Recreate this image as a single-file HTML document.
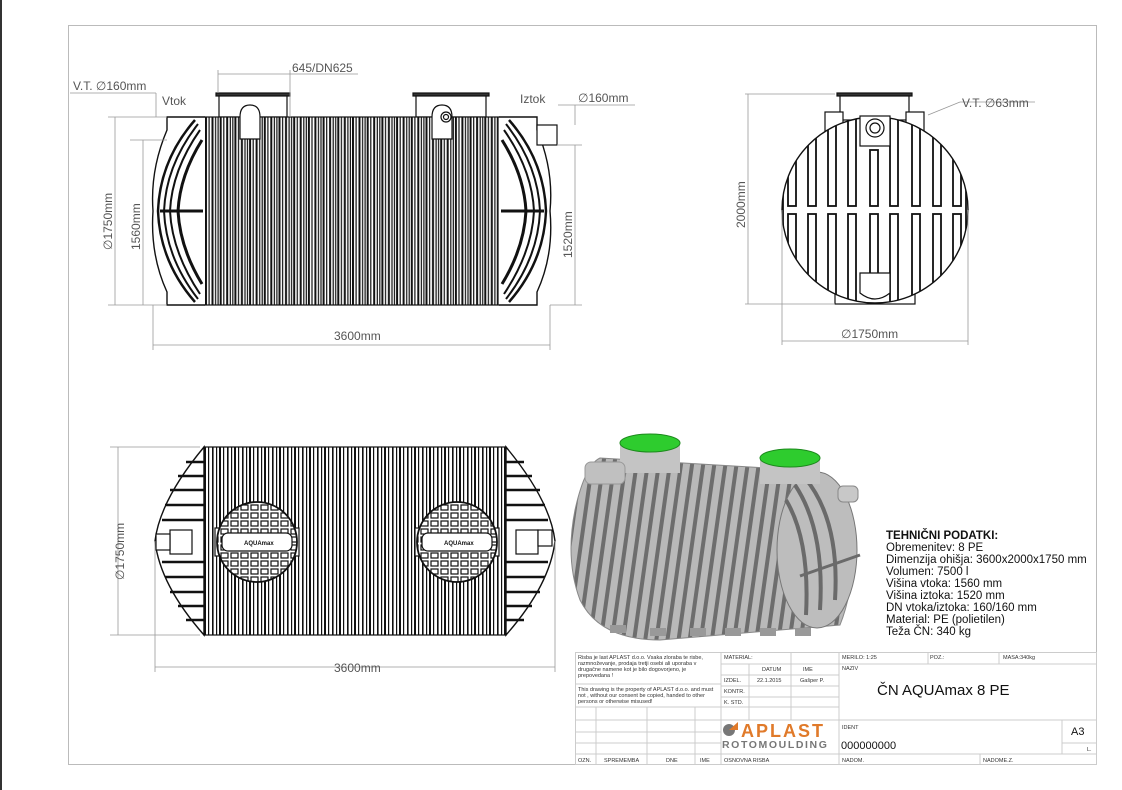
<!DOCTYPE html>
<html><head><meta charset="utf-8"><style>
html,body{margin:0;padding:0;background:#fff}
svg{display:block}
text{font-family:"Liberation Sans",sans-serif}
</style></head><body>
<svg width="1122" height="790" viewBox="0 0 1122 790" xmlns="http://www.w3.org/2000/svg">
<defs>
<pattern id="ribs" x="205" y="0" width="14.7" height="10" patternUnits="userSpaceOnUse">
<rect x="0" y="0" width="14.7" height="10" fill="#fff"/>
<rect x="0" y="0" width="2" height="10" fill="#111"/>
<rect x="3.5" y="0" width="1.2" height="10" fill="#111"/>
<rect x="6.5" y="0" width="2" height="10" fill="#111"/>
<rect x="10" y="0" width="1.2" height="10" fill="#111"/>
<rect x="12.5" y="0" width="1.2" height="10" fill="#111"/>
</pattern>
<pattern id="ribs2" x="204" y="0" width="15" height="10" patternUnits="userSpaceOnUse">
<rect x="0" y="0" width="15" height="10" fill="#fff"/>
<rect x="0" y="0" width="2" height="10" fill="#111"/>
<rect x="4" y="0" width="1.2" height="10" fill="#111"/>
<rect x="8" y="0" width="1.6" height="10" fill="#111"/>
<rect x="12" y="0" width="1.2" height="10" fill="#111"/>
</pattern>
<pattern id="bricks" x="0" y="0" width="10" height="8" patternUnits="userSpaceOnUse">
<rect width="10" height="8" fill="#fff"/>
<rect x="1" y="1" width="7" height="5" fill="none" stroke="#111" stroke-width="1.2"/>
</pattern>
<pattern id="gstripe" x="0" y="0" width="11" height="10" patternUnits="userSpaceOnUse" patternTransform="rotate(8)">
<rect width="11" height="10" fill="#b9b9b9"/>
<rect x="0" y="0" width="4" height="10" fill="#6d6d6d"/>
</pattern>
<clipPath id="fc"><circle cx="875" cy="210" r="93"/></clipPath>
</defs>

<rect x="0" y="0" width="2" height="790" fill="#333"/>
<rect x="68.5" y="25.5" width="1028" height="739" fill="none" stroke="#bbb" stroke-width="1"/>

<!-- ============ SIDE VIEW ============ -->
<g stroke="#111" fill="none" stroke-width="1.2">
<rect x="216" y="93" width="74" height="3" fill="#333"/>
<rect x="219" y="96" width="68" height="21" fill="#fff"/>
<rect x="413" y="93" width="76" height="3" fill="#333"/>
<rect x="416" y="96" width="70" height="21" fill="#fff"/>
<rect x="205" y="117" width="294" height="188" fill="url(#ribs)"/>
<path d="M240 117 q0 -12 10 -12 q10 0 10 12 v22 h-20z" fill="#fff"/>
<path d="M432 117 q0 -12 10 -12 q10 0 10 12 v22 h-20z" fill="#fff"/>
<circle cx="446" cy="117" r="5" fill="#fff"/><circle cx="446" cy="117" r="2.5"/>
<path d="M205 117 H167 V130 Q150 170 153 211 Q150 255 167 292 V305 H205" fill="#fff" stroke-width="1.4"/>
<path d="M195 120 Q160 160 158 211 Q160 262 195 302" stroke-width="2.5"/>
<path d="M198 124 Q166 165 164 211 Q166 258 198 299" stroke-width="2"/>
<path d="M200 130 Q172 170 170 211 Q172 252 200 294" stroke-width="2"/>
<path d="M202 140 Q180 175 178 211 Q180 248 202 284" stroke-width="3"/>
<line x1="160" y1="211" x2="203" y2="211" stroke-width="3"/>
<path d="M499 117 H537 V130 Q554 170 550 211 Q554 255 537 292 V305 H499" fill="#fff" stroke-width="1.4"/>
<path d="M509 120 Q544 160 546 211 Q544 262 509 302" stroke-width="2.5"/>
<path d="M506 124 Q538 165 540 211 Q538 258 506 299" stroke-width="2"/>
<path d="M504 130 Q532 170 534 211 Q532 252 504 294" stroke-width="2"/>
<path d="M502 140 Q524 175 526 211 Q524 248 502 284" stroke-width="3"/>
<line x1="501" y1="211" x2="544" y2="211" stroke-width="3"/>
<rect x="537" y="125" width="20" height="20" fill="#fff"/>
</g>
<g stroke="#999" stroke-width="0.8" fill="none">
<line x1="70" y1="93" x2="156" y2="93"/><line x1="156" y1="93" x2="156" y2="117"/>
<line x1="108" y1="117" x2="167" y2="117"/>
<line x1="108" y1="305" x2="167" y2="305"/>
<line x1="130" y1="140" x2="167" y2="140"/>
<line x1="115" y1="117" x2="115" y2="305"/>
<line x1="143" y1="140" x2="143" y2="305"/>
<line x1="218" y1="70" x2="218" y2="93"/><line x1="290" y1="70" x2="290" y2="117"/>
<line x1="218" y1="74" x2="290" y2="74"/><line x1="290" y1="74" x2="358" y2="74"/>
<line x1="558" y1="105" x2="635" y2="105"/><line x1="575" y1="105" x2="575" y2="125"/>
<line x1="557" y1="145" x2="582" y2="145"/>
<line x1="550" y1="305" x2="582" y2="305"/>
<line x1="575" y1="145" x2="575" y2="305"/>
<line x1="153" y1="305" x2="153" y2="350"/><line x1="550" y1="305" x2="550" y2="350"/>
<line x1="153" y1="345" x2="550" y2="345"/>
</g>
<g font-size="12" fill="#555">
<text x="73" y="90">V.T. ∅160mm</text>
<text x="162" y="105">Vtok</text>
<text x="292" y="72">645/DN625</text>
<text x="520" y="103">Iztok</text>
<text x="578" y="102">∅160mm</text>
<text x="334" y="340">3600mm</text>
<text transform="translate(112,250) rotate(-90)">∅1750mm</text>
<text transform="translate(140,250) rotate(-90)">1560mm</text>
<text transform="translate(572,258) rotate(-90)">1520mm</text>
</g>

<!-- ============ FRONT VIEW ============ -->
<g stroke="#111" fill="none" stroke-width="1.2">
<rect x="837" y="93" width="75" height="3" fill="#333"/>
<rect x="840" y="96" width="69" height="24" fill="#fff"/>
<rect x="825" y="112" width="18" height="20" fill="#fff"/>
<rect x="906" y="112" width="18" height="20" fill="#fff"/>
<rect x="835" y="290" width="80" height="14" fill="#fff"/>
<circle cx="875" cy="210" r="93" fill="#fff" stroke-width="1.4"/>
<g clip-path="url(#fc)" stroke-width="1.8">
<rect x="788" y="118" width="8" height="88"/><rect x="788" y="214" width="8" height="92"/>
<rect x="808" y="118" width="8" height="88"/><rect x="808" y="214" width="8" height="92"/>
<rect x="828" y="118" width="8" height="88"/><rect x="828" y="214" width="8" height="92"/>
<rect x="848" y="118" width="8" height="88"/><rect x="848" y="214" width="8" height="92"/>
<rect x="870" y="150" width="8" height="56"/><rect x="870" y="214" width="8" height="60"/>
<rect x="890" y="118" width="8" height="88"/><rect x="890" y="214" width="8" height="92"/>
<rect x="912" y="118" width="8" height="88"/><rect x="912" y="214" width="8" height="92"/>
<rect x="933" y="118" width="8" height="88"/><rect x="933" y="214" width="8" height="92"/>
<rect x="953" y="118" width="8" height="88"/><rect x="953" y="214" width="8" height="92"/>
<line x1="780" y1="118" x2="780" y2="306"/>
<line x1="783" y1="118" x2="783" y2="306"/>
<line x1="966" y1="118" x2="966" y2="306"/>
<line x1="969" y1="118" x2="969" y2="306"/>
</g>
<rect x="860" y="116" width="30" height="30" fill="#fff"/>
<circle cx="875" cy="128" r="9"/><circle cx="875" cy="128" r="5"/>
<path d="M860 273 h30 v20 q-15 12 -30 0z" fill="#fff"/>
</g>
<g stroke="#999" stroke-width="0.8" fill="none">
<line x1="745" y1="94" x2="835" y2="94"/><line x1="745" y1="304" x2="835" y2="304"/>
<line x1="748" y1="94" x2="748" y2="304"/>
<line x1="782" y1="210" x2="782" y2="345"/><line x1="968" y1="210" x2="968" y2="345"/>
<line x1="782" y1="341" x2="968" y2="341"/>
<line x1="928" y1="115" x2="960" y2="102"/><line x1="960" y1="102" x2="1035" y2="102"/>
</g>
<g font-size="12" fill="#555">
<text x="962" y="107">V.T. ∅63mm</text>
<text x="841" y="338">∅1750mm</text>
<text transform="translate(745,228) rotate(-90)">2000mm</text>
</g>

<!-- ============ TOP VIEW ============ -->
<g stroke="#111" fill="none" stroke-width="1.2">
<rect x="204" y="447" width="302" height="188" fill="url(#ribs2)"/>
<rect x="215" y="528" width="84" height="28" fill="#fff"/>
<rect x="415" y="528" width="84" height="28" fill="#fff"/>
<path d="M204 447 Q160 500 155 541 Q160 585 204 635 Z" fill="#fff" stroke-width="1.4"/>
<path d="M506 447 Q550 500 555 541 Q550 585 506 635 Z" fill="#fff" stroke-width="1.4"/>
<g stroke-width="2.5">
<path d="M186 462 h18 M178 476 h26 M170 490 h34 M165 505 h39 M162 520 h42 M162 562 h42 M165 577 h39 M170 592 h34 M178 606 h26 M186 620 h18"/>
<path d="M524 462 h-18 M532 476 h-26 M540 490 h-34 M545 505 h-39 M548 520 h-42 M548 562 h-42 M545 577 h-39 M540 592 h-34 M532 606 h-26 M524 620 h-18"/>
</g>
<rect x="170" y="530" width="22" height="24" fill="#fff"/>
<rect x="156" y="534" width="14" height="16" fill="#fff"/>
<rect x="516" y="530" width="22" height="24" fill="#fff"/>
<rect x="538" y="530" width="14" height="16" fill="#fff"/>
<circle cx="257" cy="542" r="40" fill="url(#bricks)" stroke-width="1.8"/>
<circle cx="457" cy="542" r="40" fill="url(#bricks)" stroke-width="1.8"/>
<rect x="222" y="533" width="70" height="18" rx="6" fill="#fff"/>
<rect x="422" y="533" width="70" height="18" rx="6" fill="#fff"/>
</g>
<g font-size="6" font-weight="bold" fill="#111"><text x="244" y="545">AQUAmax</text><text x="444" y="545">AQUAmax</text></g>
<g stroke="#999" stroke-width="0.8" fill="none">
<line x1="110" y1="447" x2="200" y2="447"/><line x1="110" y1="635" x2="200" y2="635"/>
<line x1="118" y1="447" x2="118" y2="635"/>
<line x1="155" y1="541" x2="155" y2="672"/><line x1="555" y1="541" x2="555" y2="672"/>
<line x1="155" y1="667" x2="555" y2="667"/>
</g>
<g font-size="12" fill="#555">
<text x="334" y="672">3600mm</text>
<text transform="translate(124,580) rotate(-90)">∅1750mm</text>
</g>

<!-- ============ 3D VIEW ============ -->
<g>
<path d="M600 458 L800 470 Q840 480 850 520 Q858 580 840 625 L660 640 Q600 640 580 600 Q565 560 575 510 Q585 465 600 458 Z" fill="url(#gstripe)" stroke="#888" stroke-width="1"/>
<ellipse cx="817" cy="550" rx="40" ry="78" fill="#bdbdbd" stroke="#777"/>
<g stroke="#6a6a6a" stroke-width="4" fill="none">
<path d="M805 478 Q840 520 835 600"/><path d="M795 485 Q825 530 820 610"/><path d="M786 500 Q810 540 806 615"/>
<line x1="800" y1="576" x2="860" y2="555" stroke-width="3"/>
</g>
<rect x="838" y="486" width="20" height="16" rx="5" fill="#c8c8c8" stroke="#888"/>
<g fill="#999"><rect x="610" y="625" width="16" height="8"/><rect x="650" y="628" width="16" height="8"/><rect x="690" y="628" width="16" height="8"/><rect x="725" y="628" width="16" height="8"/><rect x="760" y="628" width="16" height="8"/><rect x="795" y="628" width="16" height="8"/></g>
<rect x="620" y="443" width="60" height="30" fill="#c4c4c4"/>
<ellipse cx="650" cy="443" rx="30" ry="9" fill="#2ecc2e" stroke="#1d8a1d"/>
<rect x="760" y="458" width="60" height="26" fill="#c4c4c4"/>
<ellipse cx="790" cy="458" rx="30" ry="9" fill="#2ecc2e" stroke="#1d8a1d"/>
<rect x="585" y="462" width="40" height="22" rx="6" fill="#c0c0c0" stroke="#999"/>
</g>
<g font-size="11.5" fill="#111">
<text x="886" y="539" font-weight="bold">TEHNIČNI PODATKI:</text>
<text x="886" y="551">Obremenitev: 8 PE</text>
<text x="886" y="563">Dimenzija ohišja: 3600x2000x1750 mm</text>
<text x="886" y="575">Volumen: 7500 l</text>
<text x="886" y="587">Višina vtoka: 1560 mm</text>
<text x="886" y="599">Višina iztoka: 1520 mm</text>
<text x="886" y="611">DN vtoka/iztoka: 160/160 mm</text>
<text x="886" y="623">Material: PE (polietilen)</text>
<text x="886" y="635">Teža ČN: 340 kg</text>
</g>

<!-- ============ TITLE BLOCK ============ -->
<g stroke="#ccc" stroke-width="1" fill="none">
<rect x="575.5" y="652.5" width="521" height="112"/>
<line x1="721" y1="652" x2="721" y2="765"/>
<line x1="749" y1="664" x2="749" y2="720"/>
<line x1="791" y1="652" x2="791" y2="720"/>
<line x1="839" y1="652" x2="839" y2="765"/>
<line x1="928" y1="652" x2="928" y2="664"/>
<line x1="999" y1="652" x2="999" y2="664"/>
<line x1="721" y1="664" x2="839" y2="664"/>
<line x1="839" y1="664" x2="1097" y2="664"/>
<line x1="721" y1="675" x2="839" y2="675"/>
<line x1="721" y1="686" x2="839" y2="686"/>
<line x1="575" y1="684" x2="721" y2="684"/>
<line x1="721" y1="697" x2="839" y2="697"/>
<line x1="575" y1="707" x2="839" y2="707"/>
<line x1="575" y1="720" x2="1097" y2="720"/>
<line x1="575" y1="732" x2="721" y2="732"/>
<line x1="575" y1="743" x2="721" y2="743"/>
<line x1="1062" y1="743" x2="1097" y2="743"/>
<line x1="575" y1="754" x2="1097" y2="754"/>
<line x1="1062" y1="720" x2="1062" y2="754"/>
<line x1="596" y1="707" x2="596" y2="765"/>
<line x1="647" y1="707" x2="647" y2="765"/>
<line x1="695" y1="707" x2="695" y2="765"/>
<line x1="980" y1="754" x2="980" y2="765"/>
</g>
<g font-size="5.5" fill="#333">
<text x="578" y="659">Risba je last APLAST d.o.o. Vsaka zloraba te risbe,</text>
<text x="578" y="665">razmnoževanje, prodaja tretji osebi ali uporaba v</text>
<text x="578" y="671">drugačne namene kot je bilo dogovorjeno, je</text>
<text x="578" y="677">prepovedana !</text>
<text x="578" y="691">This drawing is the property of APLAST d.o.o. and must</text>
<text x="578" y="697">not , without our consent be copied, handed to other</text>
<text x="578" y="703">persons or otherwise misused!</text>
<text x="724" y="659">MATERIAL:</text>
<text x="762" y="671">DATUM</text><text x="803" y="671">IME</text>
<text x="724" y="682">IZDEL.</text><text x="757" y="682">22.1.2015</text><text x="800" y="682">Gašper P.</text>
<text x="724" y="693">KONTR.</text>
<text x="724" y="704">K. STD.</text>
<text x="842" y="659">MERILO:  1:25</text>
<text x="930" y="659">POZ.:</text>
<text x="1003" y="659">MASA:340kg</text>
<text x="842" y="670">NAZIV</text>
<text x="842" y="729">IDENT</text>
<text x="1087" y="751">L.</text>
<text x="578" y="762">OZN.</text><text x="604" y="762">SPREMEMBA</text><text x="666" y="762">DNE</text><text x="700" y="762">IME</text>
<text x="724" y="762">OSNOVNA RISBA</text><text x="842" y="762">NADOM.</text><text x="983" y="762">NADOME.Z.</text>
</g>
<text x="877" y="695" font-size="15" fill="#111">ČN AQUAmax 8 PE</text>
<text x="841" y="749" font-size="11" fill="#111">000000000</text>
<text x="1071" y="735" font-size="11" fill="#111">A3</text>
<circle cx="729" cy="730" r="6" fill="#777"/><path d="M729 730 L738 722 L738 730 Z" fill="#e07a2a"/>
<text x="741" y="737" font-size="18" font-weight="bold" fill="#e07a2a" letter-spacing="2">APLAST</text>
<text x="722" y="748" font-size="10.5" font-weight="bold" fill="#777" letter-spacing="1.6">ROTOMOULDING</text>
</svg>
</body></html>
